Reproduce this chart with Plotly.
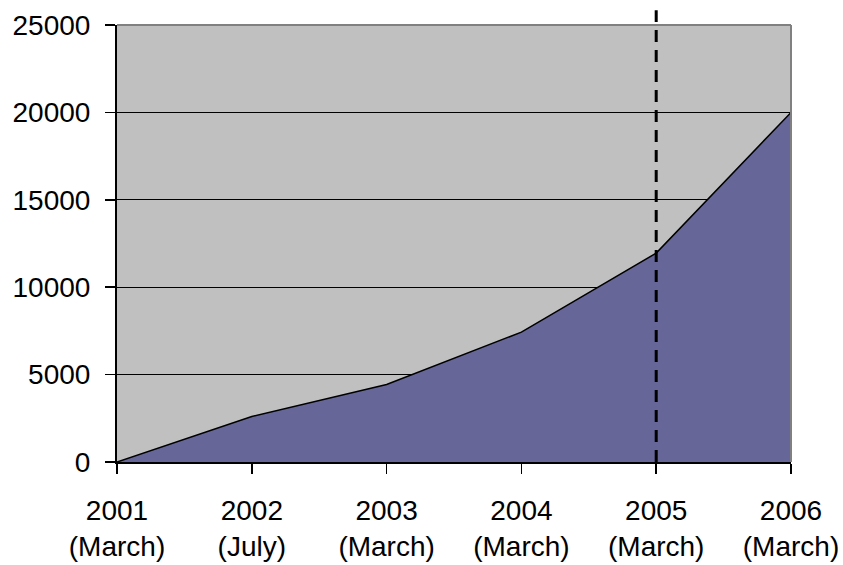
import plotly.graph_objects as go

categories = ["2001<br>(March)", "2002<br>(July)", "2003<br>(March)",
              "2004<br>(March)", "2005<br>(March)", "2006<br>(March)"]
values = [0, 2600, 4430, 7430, 11950, 20000]
y_ticks = [0, 5000, 10000, 15000, 20000, 25000]
marker_index = 4  # 2005 (March)

x_idx = list(range(len(categories)))

fig = go.Figure()
fig.add_trace(go.Scatter(
    x=x_idx, y=values, mode="lines", fill="tozeroy",
    fillcolor="#666699", line=dict(color="black", width=1.5),
    hoverinfo="skip", showlegend=False,
))

font = dict(family="Liberation Sans, Arial, sans-serif", size=28, color="black")

fig.update_layout(
    width=843, height=565,
    margin=dict(l=117, r=52, t=25, b=103, autoexpand=False),
    paper_bgcolor="white", plot_bgcolor="#C0C0C0",
    font=font,
    xaxis=dict(
        range=[0, 5], tickmode="array", tickvals=x_idx, ticktext=categories,
        showgrid=False, zeroline=False, showline=True, linecolor="black",
        linewidth=2, ticks="outside", ticklen=10, tickwidth=1.5,
        tickcolor="black", tickfont=font, fixedrange=True,
        automargin=False, ticklabelstandoff=12, ticklabeloverflow="allow",
    ),
    yaxis=dict(
        range=[0, 25000], tickmode="array", tickvals=y_ticks,
        ticktext=[str(v) for v in y_ticks],
        showgrid=True, gridcolor="black", gridwidth=1.2, zeroline=False,
        showline=True, linecolor="black", linewidth=2, ticks="outside",
        ticklen=10, tickwidth=1.5, tickcolor="black", tickfont=font,
        fixedrange=True, automargin=False, ticklabelstandoff=9,
        ticklabeloverflow="allow",
    ),
    shapes=[
        dict(type="line", xref="paper", yref="paper", x0=0, x1=1, y0=1, y1=1,
             line=dict(color="#808080", width=2), layer="above"),
        dict(type="line", xref="paper", yref="paper", x0=1, x1=1, y0=0, y1=1,
             line=dict(color="#808080", width=2), layer="above"),
        dict(type="line", xref="x", yref="paper", x0=marker_index, x1=marker_index,
             y0=0, y1=1.034, line=dict(color="black", width=3, dash="12px,8px"),
             layer="above"),
    ],
)

fig.write_html(
    "out.html",
    config={"displayModeBar": False, "staticPlot": True},
    post_script="document.body.style.margin='0';document.body.style.overflow='hidden';",
)
